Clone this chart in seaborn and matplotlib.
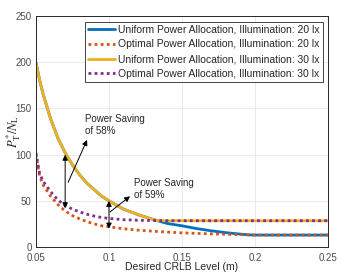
import matplotlib
matplotlib.use("Agg")
import matplotlib.pyplot as plt
import pandas as pd
import seaborn as sns

# desired CRLB level (m) and the power values
crlb = [0.05, 0.0525, 0.055, 0.06, 0.065, 0.07, 0.075, 0.08, 0.085, 0.09, 0.095,
        0.1, 0.11, 0.12, 0.13, 0.1336, 0.14, 0.15, 0.16, 0.17, 0.18, 0.19, 0.196,
        0.2, 0.22, 0.25]
uniform_20 = [200, 181, 165, 139, 118, 102, 89, 78, 69, 62, 55,
              50, 41, 35, 30, 28.3, 25.5, 23, 20, 17.6, 15.6, 14, 13.2,
              13, 13, 13]
optimal_20 = [100, 77, 67, 55, 46, 39, 34, 30.5, 27.5, 25, 23,
              22, 19.8, 18.3, 17.2, 16.8, 16.2, 15.4, 14.8, 14.3, 13.8, 13.4, 13.1,
              13, 13, 13]
uniform_30 = [200, 181, 165, 139, 118, 102, 89, 78, 69, 62, 55,
              50, 41, 35, 30, 28.5, 28.5, 28.5, 28.5, 28.5, 28.5, 28.5, 28.5,
              28.5, 28.5, 28.5]
optimal_30 = [102, 80, 71, 60, 51, 45, 41, 38, 35.5, 33.5, 32,
              31, 29.6, 29, 28.7, 28.6, 28.5, 28.5, 28.5, 28.5, 28.5, 28.5, 28.5,
              28.5, 28.5, 28.5]
labels = ["Uniform Power Allocation, Illumination: 20 lx",
          "Optimal Power Allocation, Illumination: 20 lx",
          "Uniform Power Allocation, Illumination: 30 lx",
          "Optimal Power Allocation, Illumination: 30 lx"]

df = pd.DataFrame({"crlb": crlb, labels[0]: uniform_20, labels[1]: optimal_20,
                   labels[2]: uniform_30, labels[3]: optimal_30})

sns.set_style("whitegrid")
plt.rcParams["font.family"] = ["Liberation Sans", "DejaVu Sans"]
plt.rcParams["mathtext.fontset"] = "stix"

colors = ["#0072BD", "#D95319", "#EDB120", "#7E2F8E"]
styles = ["-", (0, (1, 1.2)), "-", (0, (1, 1.2))]
widths = [2.0, 2.0, 2.0, 2.0]

fig = plt.figure(figsize=(3.39, 2.73), dpi=100)
ax = fig.add_axes([0.106, 0.095, 0.862, 0.846])
for lab, c, ls, lw in zip(labels, colors, styles, widths):
    sns.lineplot(data=df, x="crlb", y=lab, color=c, linestyle=ls, linewidth=lw,
                 label=lab, ax=ax)

ax.set_xlim(0.05, 0.25)
ax.set_ylim(0, 250)
ax.set_xticks([0.05, 0.1, 0.15, 0.2, 0.25])
ax.set_xticklabels(["0.05", "0.1", "0.15", "0.2", "0.25"])
ax.set_yticks([0, 50, 100, 150, 200, 250])
ax.tick_params(direction="in", length=3, labelsize=7, colors="#262626",
               labelcolor="#4d4d4d")
ax.tick_params(axis="x", pad=4)
ax.tick_params(axis="y", pad=3)
ax.grid(True, color="#e6e6e6", linewidth=0.6)
for s in ax.spines.values():
    s.set_color("#262626")
    s.set_linewidth(0.7)
ax.set_xlabel("Desired CRLB Level (m)", fontsize=7.5, color="#262626")
ax.xaxis.set_label_coords(0.5, -0.066)
ax.set_ylabel(r"$P_{\mathrm{T}}^{*}/N_{\mathrm{L}}$", fontsize=9, color="#262626")
ax.yaxis.set_label_coords(-0.045, 0.5)

# power saving annotations
dbl = dict(arrowstyle="<|-|>", color="black", lw=0.7, mutation_scale=8,
           shrinkA=0, shrinkB=0)
one = dict(arrowstyle="-|>", color="black", lw=0.7, mutation_scale=8,
           shrinkA=0, shrinkB=0)
ax.annotate("", xy=(0.07, 100), xytext=(0.07, 42), arrowprops=dbl)
ax.annotate("", xy=(0.1, 50), xytext=(0.1, 20), arrowprops=dbl)
ax.annotate("", xy=(0.085, 116), xytext=(0.072, 70), arrowprops=one)
ax.text(0.0836, 132, "Power Saving\nof 58%", fontsize=7, ha="left", va="center",
        color="#262626", linespacing=1.2)
ax.annotate("", xy=(0.1144, 55), xytext=(0.1007, 38), arrowprops=one)
ax.text(0.117, 63, "Power Saving\nof 59%", fontsize=7, ha="left", va="center",
        color="#262626", linespacing=1.2)

leg = ax.legend(loc="upper right", bbox_to_anchor=(0.99, 0.985), fontsize=7.5,
                frameon=True, fancybox=False, borderpad=0.3, labelspacing=0.45,
                handlelength=2.6, handletextpad=0.3, borderaxespad=0.2)
leg.get_frame().set_edgecolor("#262626")
leg.get_frame().set_linewidth(0.6)
leg.get_frame().set_alpha(1)

fig.savefig("out.png", dpi=100)
